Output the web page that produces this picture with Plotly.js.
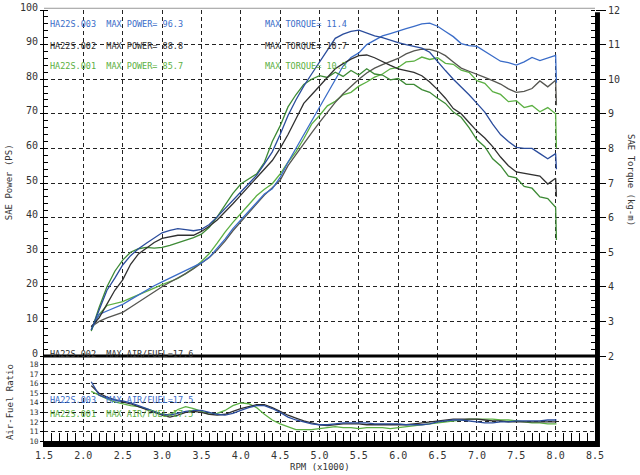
<!DOCTYPE html>
<html>
<head>
<meta charset="utf-8">
<script src="https://cdn.plot.ly/plotly-3.0.1.min.js"></script>
<style>
  html, body { margin: 0; padding: 0; background: #fff; }
  #dyno { width: 640px; height: 475px; }
</style>
</head>
<body>
<div id="dyno"></div>
<script>
// rpm (x1000), the last point is the drop at the end of each run
const rpm = [2.1,2.2,2.3,2.4,2.5,2.6,2.7,2.8,2.9,3.0,
             3.1,3.2,3.3,3.4,3.5,3.6,3.7,3.8,3.9,4.0,
             4.1,4.2,4.3,4.4,4.5,4.6,4.7,4.8,4.9,5.0,
             5.1,5.2,5.3,5.4,5.5,5.6,5.7,5.8,5.9,6.0,
             6.1,6.2,6.3,6.4,6.5,6.6,6.7,6.8,6.9,7.0,
             7.1,7.2,7.3,7.4,7.5,7.6,7.7,7.8,7.9,8.0,
             8.01];

// SAE power (PS)
const powerBlue = [7.5,12.0,13.0,14.0,14.9,16.3,17.7,19.1,20.3,21.4,
                   22.5,23.7,24.6,25.7,26.9,28.5,31.0,33.8,36.8,39.3,
                   42.0,44.5,46.8,48.3,51.6,56.0,60.0,64.0,68.0,72.0,
                   75.7,80.0,83.8,86.3,87.6,90.0,91.3,92.5,93.2,94.0,
                   94.6,95.3,96.0,96.2,95.3,93.8,92.3,90.3,89.7,89.5,
                   88.0,86.5,85.2,84.8,84.1,85.0,86.3,85.4,86.2,86.9,
                   79.0];
const powerGray = [8.5,10.0,11.0,11.8,12.6,14.1,15.6,17.1,18.6,20.0,
                   21.3,22.5,23.8,25.2,26.8,28.5,30.6,33.2,36.2,38.8,
                   41.5,44.0,46.5,48.6,50.8,55.0,58.2,61.5,64.5,67.5,
                   70.5,73.3,75.8,78.0,80.0,81.8,83.2,84.2,85.0,86.0,
                   87.3,88.2,88.7,88.6,88.0,86.8,85.0,83.2,82.3,81.5,
                   80.5,79.6,78.6,77.2,76.2,76.5,77.3,79.5,77.8,79.7,
                   72.5];
const powerGreen = [7.5,12.0,14.6,15.2,15.7,16.7,17.6,18.6,19.6,20.6,
                    21.5,22.4,23.8,25.4,27.3,29.6,32.6,35.8,38.6,41.0,
                    43.7,46.3,48.2,49.8,52.6,56.0,59.0,62.8,67.0,69.5,
                    72.3,73.6,75.5,76.2,78.0,79.2,80.6,81.5,83.0,83.4,
                    85.0,85.2,86.4,85.7,86.2,84.6,84.3,82.6,82.0,79.6,
                    78.8,76.4,75.6,73.5,73.8,71.8,72.4,70.6,71.8,70.0,
                    60.0];

// SAE torque (kg-m)
const torqueBlue = [2.75,3.3,3.9,4.25,4.63,4.9,5.1,5.26,5.42,5.56,
                    5.63,5.68,5.65,5.62,5.66,5.8,6.02,6.25,6.5,6.74,
                    6.98,7.22,7.55,7.9,8.4,8.95,9.4,9.8,10.15,10.5,
                    10.85,11.18,11.3,11.38,11.42,11.34,11.25,11.2,11.12,11.06,
                    11.0,10.96,10.9,10.78,10.5,10.25,10.0,9.78,9.55,9.3,
                    9.05,8.7,8.4,8.2,8.03,8.0,8.0,7.85,7.7,7.85,
                    7.4];
const torqueGray = [2.85,3.1,3.5,3.9,4.2,4.65,4.95,5.11,5.28,5.4,
                    5.45,5.49,5.49,5.49,5.6,5.75,5.93,6.15,6.4,6.65,
                    6.9,7.12,7.38,7.65,8.0,8.4,8.85,9.3,9.55,9.8,
                    10.05,10.3,10.45,10.58,10.68,10.7,10.62,10.5,10.4,10.3,
                    10.25,10.2,10.1,9.92,9.7,9.45,9.15,9.0,8.75,8.5,
                    8.3,8.05,7.75,7.5,7.32,7.28,7.26,7.2,6.97,7.14,
                    6.6];
const torqueGreen = [2.72,3.4,4.0,4.45,4.77,5.0,5.1,5.14,5.12,5.14,
                     5.2,5.27,5.35,5.42,5.52,5.72,6.02,6.35,6.7,6.97,
                     7.12,7.26,7.6,8.2,8.65,9.2,9.55,9.85,10.0,10.1,
                     10.05,10.2,10.08,10.25,10.12,10.3,10.15,10.12,9.98,10.02,
                     9.85,9.85,9.7,9.62,9.45,9.3,9.05,8.9,8.6,8.25,
                     8.05,7.7,7.5,7.2,7.15,6.9,6.85,6.6,6.55,6.3,
                     5.35];

// air-fuel ratio
const afrBlue = [16.2,14.8,14.5,14.3,14.2,14.0,13.7,13.4,13.1,12.8,
                 12.7,12.9,13.1,13.2,13.2,13.0,12.8,12.7,12.9,13.2,
                 13.5,13.7,13.7,13.4,13.0,12.5,12.2,12.0,11.8,11.7,
                 11.7,11.8,11.9,11.9,11.9,11.9,11.8,11.8,11.8,11.8,
                 11.7,11.7,11.7,11.8,12.0,12.1,12.2,12.2,12.1,12.0,
                 11.9,11.9,12.0,12.0,12.1,12.1,12.1,12.1,12.2,12.2,
                 12.2];
const afrGray = [15.8,15.0,14.6,14.3,14.1,13.9,13.6,13.3,13.0,12.7,
                 12.5,12.7,13.0,13.1,13.0,12.8,12.7,12.8,13.1,13.4,
                 13.6,13.8,13.8,13.5,13.1,12.7,12.4,12.1,11.9,11.7,
                 11.6,11.7,11.8,11.8,11.8,11.7,11.7,11.7,11.7,11.7,
                 11.7,11.8,11.9,12.0,12.1,12.2,12.3,12.3,12.3,12.3,
                 12.2,12.1,12.1,12.0,12.0,12.0,12.0,12.0,12.0,12.0,
                 12.0];
const afrGreen = [15.2,14.8,14.4,14.1,13.9,13.7,13.6,13.4,13.1,12.8,
                  12.7,13.3,13.6,13.4,13.1,12.8,12.9,13.2,13.7,14.0,
                  13.9,13.5,12.8,12.2,11.8,11.5,11.2,11.2,11.2,11.3,
                  11.4,11.5,11.4,11.4,11.3,11.4,11.4,11.4,11.3,11.4,
                  11.5,11.6,11.7,11.8,11.9,12.0,12.1,12.2,12.3,12.3,
                  12.3,12.3,12.2,12.2,12.1,12.0,11.9,11.9,11.8,11.8,
                  11.8];

const C_BLUE = '#3a6cc8', C_BLUE_D = '#2a4c9c';
const C_GRAY = '#555550', C_GRAY_D = '#303030';
const C_GREEN = '#5cb043', C_GREEN_D = '#3d8a35';
const MONO = 'DejaVu Sans Mono, Liberation Mono, monospace';

const line = (y, color, xa, ya) => ({
    x: rpm, y: y, xaxis: xa, yaxis: ya, type: 'scatter', mode: 'lines',
    line: { color: color, width: 1.3 }, hoverinfo: 'skip'
});

const data = [
    line(torqueGreen, C_GREEN_D, 'x2', 'y2'),
    line(torqueGray, C_GRAY_D, 'x2', 'y2'),
    line(torqueBlue, C_BLUE_D, 'x2', 'y2'),
    line(powerGreen, C_GREEN, 'x2', 'y'),
    line(powerGray, C_GRAY, 'x2', 'y'),
    line(powerBlue, C_BLUE, 'x2', 'y'),
    line(afrGreen, C_GREEN, 'x', 'y3'),
    line(afrGray, C_GRAY_D, 'x', 'y3'),
    line(afrBlue, C_BLUE_D, 'x', 'y3'),
];

const grid = { showgrid: true, gridcolor: '#222', gridwidth: 1, griddash: '4px,3px', zeroline: false };
// plot area is 431 px tall, the air-fuel panel takes the bottom 85 px
const SPLIT = 85 / 431;

const note = (text, x, y, color, xref, yref) => ({
    text: text, x: x, y: y, xref: xref, yref: yref, xanchor: 'left', yanchor: 'middle',
    showarrow: false, font: { family: MONO, size: 8.5, color: color }
});
const title = (text, x, y, angle) => ({
    text: text, x: x, y: y, xref: 'paper', yref: 'paper', textangle: angle,
    xanchor: 'center', yanchor: 'middle',
    showarrow: false, font: { family: MONO, size: 9, color: '#333' }
});

const layout = {
    width: 640, height: 475,
    margin: { l: 44, r: 45, t: 10, b: 34 },
    paper_bgcolor: '#ffffff', plot_bgcolor: '#ffffff',
    showlegend: false,
    font: { family: MONO, size: 10, color: '#333' },
    xaxis: Object.assign({}, grid, {
        domain: [0, 1], anchor: 'y3', range: [1.5, 8.5], tick0: 1.5, dtick: 0.5, tickformat: '.1f',
        showline: true, linecolor: '#000', linewidth: 6, ticks: '',
        minor: { ticks: 'inside', dtick: 0.1, ticklen: 8, tickcolor: '#000', tickwidth: 1, showgrid: false },
        tickfont: { family: MONO, size: 10, color: '#333' }
    }),
    xaxis2: Object.assign({}, grid, {
        domain: [0, 1], anchor: 'y', range: [1.5, 8.5], tick0: 1.5, dtick: 0.5,
        showticklabels: false, ticks: '', showline: false
    }),
    yaxis: Object.assign({}, grid, {
        domain: [SPLIT, 1], anchor: 'x2', range: [0, 100], dtick: 10,
        showline: true, linecolor: '#000', linewidth: 1,
        ticks: 'outside', ticklen: 3, tickcolor: '#000',
        ticklabelshift: -3, ticklabeloverflow: 'allow',
        minor: { ticks: 'inside', dtick: 2, ticklen: 4, tickcolor: '#000', showgrid: false },
        tickfont: { family: MONO, size: 10, color: '#333' }
    }),
    yaxis2: {
        overlaying: 'y', side: 'right', anchor: 'x2', range: [2, 12], dtick: 1,
        showgrid: false, zeroline: false, showline: false,
        ticks: 'outside', ticklen: 10, tickcolor: '#000',
        minor: { ticks: 'inside', dtick: 0.2, ticklen: 4, tickcolor: '#000' },
        tickfont: { family: MONO, size: 10, color: '#333' }
    },
    yaxis3: Object.assign({}, grid, {
        domain: [0, SPLIT], anchor: 'x', range: [10, 18.9], dtick: 1,
        showline: true, linecolor: '#000', linewidth: 1,
        ticks: 'outside', ticklen: 3, tickcolor: '#000',
        tickfont: { family: MONO, size: 7.5, color: '#333' }
    }),
    shapes: [
        // heavy line between power/torque and air-fuel panels
        { type: 'line', xref: 'paper', yref: 'paper', x0: 0, x1: 1, y0: SPLIT, y1: SPLIT,
          line: { color: '#000', width: 3 } },
        // thin frame on top
        { type: 'line', xref: 'paper', yref: 'paper', x0: 0, x1: 1, y0: 1.004, y1: 1.004,
          line: { color: '#999', width: 1 } },
        // heavy bar on the right edge
        { type: 'rect', xref: 'paper', yref: 'paper', x0: 1, x1: 1.009, y0: -0.014, y1: 0.995,
          fillcolor: '#000', line: { width: 0 } }
    ],
    annotations: [
        note('HA22S.003  MAX POWER= 96.3', 1.55, 96, C_BLUE, 'x2', 'y'),
        note('HA22S.002  MAX POWER= 88.8', 1.55, 89.7, C_GRAY_D, 'x2', 'y'),
        note('HA22S.001  MAX POWER= 85.7', 1.55, 83.7, C_GREEN, 'x2', 'y'),
        note('MAX TORQUE= 11.4', 4.28, 96, C_BLUE, 'x2', 'y'),
        note('MAX TORQUE= 10.7', 4.28, 89.7, C_GRAY_D, 'x2', 'y'),
        note('MAX TORQUE= 10.3', 4.28, 83.7, C_GREEN, 'x2', 'y'),
        note('HA22S.002  MAX AIR/FUEL=17.6', 0.007, 0.202, C_GRAY_D, 'paper', 'paper'),
        note('HA22S.003  MAX AIR/FUEL=17.5', 0.007, 0.095, C_BLUE, 'paper', 'paper'),
        note('HA22S.001  MAX AIR/FUEL=17.5', 0.007, 0.063, C_GREEN, 'paper', 'paper'),
        title('SAE Power (PS)', -0.062, 0.6, -90),
        title('Air-Fuel Ratio', -0.062, 0.09, -90),
        title('SAE Torque (kg-m)', 1.064, 0.605, 90),
        title('RPM (x1000)', 0.501, -0.06, 0)
    ]
};

Plotly.newPlot('dyno', data, layout, { staticPlot: true, displayModeBar: false });
</script>
</body>
</html>
